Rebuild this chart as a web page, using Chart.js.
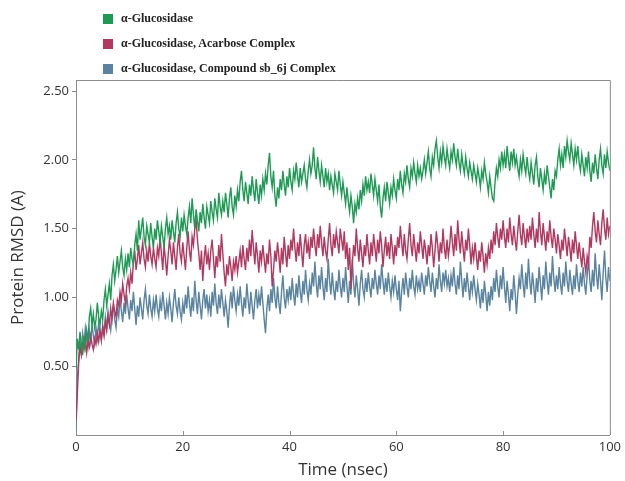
<!DOCTYPE html>
<html>
<head>
<meta charset="utf-8">
<script src="https://cdn.jsdelivr.net/npm/chart.js@4"></script>
<style>
  body { margin: 0; background: #fff; }
  #wrap { position: relative; width: 625px; height: 481px; }
  #legend { position: absolute; left: 103px; top: 6px; font: bold 12px "Liberation Serif", serif; color: #222; }
  .item { display: flex; align-items: center; height: 25px; }
  .box { width: 10px; height: 10px; margin-right: 8px; }
</style>
</head>
<body>
<div id="wrap">
  <canvas id="rmsdChart" width="625" height="481"></canvas>
  <div id="legend"></div>
</div>
<script>
// sampling step of the trajectory (nsec)
const step = 0.25;

const seriesNames = [
  "α-Glucosidase",
  "α-Glucosidase, Acarbose Complex",
  "α-Glucosidase, Compound sb_6j Complex",
];
const seriesColors = ["#1f9a55", "#b2385f", "#5a83a0"];

// α-Glucosidase, one row = 5 nsec
const apoRmsd = [
  0.48, 0.70, 0.62, 0.75, 0.66, 0.58, 0.72, 0.64, 0.76, 0.68, 0.86, 0.92, 0.80, 0.88, 0.78, 0.84, 0.96, 0.86, 0.80, 0.90,
  0.84, 0.98, 1.06, 0.94, 1.02, 1.10, 0.98, 1.16, 1.24, 1.12, 1.20, 1.30, 1.18, 1.26, 1.34, 1.22, 1.16, 1.28, 1.20, 1.32,
  1.22, 1.36, 1.28, 1.24, 1.38, 1.46, 1.34, 1.56, 1.42, 1.50, 1.58, 1.44, 1.38, 1.52, 1.46, 1.40, 1.54, 1.44, 1.36, 1.50,
  1.42, 1.56, 1.48, 1.40, 1.52, 1.44, 1.36, 1.50, 1.58, 1.46, 1.52, 1.42, 1.56, 1.48, 1.40, 1.54, 1.62, 1.50, 1.44, 1.58,
  1.48, 1.60, 1.52, 1.46, 1.58, 1.66, 1.54, 1.72, 1.60, 1.50, 1.64, 1.56, 1.48, 1.62, 1.54, 1.68, 1.58, 1.50, 1.66, 1.60,
  1.54, 1.70, 1.62, 1.56, 1.72, 1.64, 1.58, 1.76, 1.66, 1.60, 1.70, 1.62, 1.76, 1.68, 1.58, 1.72, 1.80, 1.66, 1.60, 1.74,
  1.66, 1.78, 1.70, 1.84, 1.92, 1.78, 1.70, 1.84, 1.76, 1.68, 1.82, 1.74, 1.88, 1.78, 1.70, 1.86, 1.76, 1.68, 1.82, 1.74,
  1.86, 1.78, 1.90, 1.82, 1.96, 2.05, 1.88, 1.80, 1.92, 1.74, 1.66, 1.80, 1.72, 1.86, 1.78, 1.92, 1.82, 1.74, 1.88, 1.80,
  1.94, 1.84, 1.78, 1.92, 1.86, 1.98, 1.88, 1.80, 1.94, 1.84, 1.90, 1.96, 1.86, 1.80, 1.92, 2.00, 1.90, 1.96, 2.09, 1.94,
  1.86, 2.02, 1.92, 1.84, 1.96, 1.88, 1.80, 1.94, 1.84, 1.90, 1.78, 1.88, 1.82, 1.76, 1.90, 1.84, 1.78, 1.92, 1.82, 1.74,
  1.84, 1.76, 1.68, 1.80, 1.70, 1.62, 1.74, 1.66, 1.54, 1.68, 1.62, 1.72, 1.64, 1.78, 1.70, 1.82, 1.74, 1.88, 1.78, 1.84,
  1.76, 1.90, 1.82, 1.74, 1.86, 1.78, 1.70, 1.82, 1.66, 1.58, 1.72, 1.80, 1.70, 1.84, 1.76, 1.68, 1.80, 1.74, 1.86, 1.78,
  1.72, 1.86, 1.78, 1.92, 1.82, 1.76, 1.90, 1.84, 1.96, 1.86, 1.80, 1.94, 1.88, 1.98, 1.90, 1.84, 1.96, 1.88, 1.94, 1.86,
  1.92, 2.00, 1.90, 1.98, 2.06, 1.94, 1.88, 2.02, 1.96, 2.08, 2.14, 2.02, 1.94, 2.06, 1.98, 2.10, 2.02, 1.96, 2.08, 2.00,
  1.94, 2.06, 2.00, 2.12, 2.02, 1.96, 2.08, 1.98, 1.92, 2.04, 1.96, 1.90, 2.02, 1.94, 1.88, 1.98, 1.92, 1.86, 1.96, 1.90,
  1.84, 1.94, 1.88, 1.80, 1.92, 1.86, 1.98, 1.90, 1.84, 1.76, 1.88, 1.80, 1.72, 1.70, 1.84, 1.94, 1.88, 2.00, 1.94, 2.06,
  1.96, 2.04, 1.94, 2.10, 2.00, 1.92, 2.06, 1.98, 2.08, 1.96, 2.02, 1.94, 1.88, 2.00, 1.92, 2.04, 1.96, 1.90, 2.02, 1.92,
  1.86, 1.98, 1.90, 1.82, 1.96, 2.02, 1.88, 1.80, 1.94, 1.86, 1.78, 1.90, 1.82, 1.96, 1.88, 1.80, 1.72, 1.86, 1.78, 1.92,
  1.88, 2.00, 2.08, 1.96, 2.04, 1.94, 2.10, 2.02, 2.14, 2.06, 2.00, 2.12, 2.04, 1.96, 2.08, 2.00, 2.10, 1.98, 1.92, 2.04,
  1.96, 1.88, 2.02, 1.94, 2.06, 1.92, 1.84, 1.98, 1.90, 2.04, 1.94, 1.86, 2.00, 2.08, 1.96, 1.90, 2.04, 1.94, 2.06, 1.98,
  1.92,
];

// α-Glucosidase, Acarbose Complex
const acarboseRmsd = [
  0.10, 0.30, 0.52, 0.64, 0.58, 0.66, 0.62, 0.70, 0.60, 0.68, 0.64, 0.72, 0.66, 0.62, 0.70, 0.66, 0.74, 0.68, 0.76, 0.70,
  0.78, 0.72, 0.82, 0.76, 0.86, 0.80, 0.92, 0.84, 0.96, 0.90, 0.86, 0.98, 0.94, 1.04, 0.98, 1.10, 1.02, 0.96, 1.08, 1.14,
  1.06, 1.18, 1.10, 1.26, 1.34, 1.20, 1.28, 1.38, 1.24, 1.32, 1.40, 1.28, 1.22, 1.34, 1.26, 1.40, 1.30, 1.24, 1.36, 1.28,
  1.22, 1.36, 1.30, 1.44, 1.32, 1.20, 1.38, 1.28, 1.16, 1.30, 1.42, 1.34, 1.24, 1.40, 1.30, 1.20, 1.36, 1.46, 1.32, 1.26,
  1.40, 1.30, 1.20, 1.36, 1.48, 1.34, 1.26, 1.44, 1.38, 1.50, 1.56, 1.42, 1.32, 1.20, 1.34, 1.12, 1.28, 1.38, 1.24, 1.32,
  1.20, 1.34, 1.42, 1.28, 1.14, 1.30, 1.22, 1.38, 1.26, 1.46, 1.32, 1.18, 1.08, 1.24, 1.16, 1.30, 1.22, 1.12, 1.26, 1.20,
  1.30, 1.18, 1.26, 1.34, 1.22, 1.38, 1.28, 1.20, 1.36, 1.26, 1.42, 1.30, 1.49, 1.36, 1.24, 1.40, 1.30, 1.18, 1.34, 1.26,
  1.38, 1.28, 1.18, 1.32, 1.24, 1.42, 1.30, 1.08, 1.20, 1.34, 1.26, 1.40, 1.30, 1.18, 1.36, 1.24, 1.44, 1.32, 1.22, 1.38,
  1.28, 1.42, 1.34, 1.50, 1.36, 1.26, 1.40, 1.30, 1.46, 1.34, 1.22, 1.38, 1.46, 1.32, 1.40, 1.28, 1.44, 1.36, 1.50, 1.38,
  1.30, 1.46, 1.36, 1.52, 1.40, 1.30, 1.44, 1.34, 1.28, 1.42, 1.54, 1.38, 1.30, 1.46, 1.36, 1.48, 1.40, 1.32, 1.50, 1.42,
  1.34, 1.48, 1.28, 1.40, 1.20, 1.36, 1.06, 1.24, 1.38, 1.30, 1.50, 1.36, 1.26, 1.42, 1.32, 1.22, 1.38, 1.30, 1.46, 1.34,
  1.24, 1.40, 1.30, 1.46, 1.36, 1.26, 1.42, 1.32, 1.48, 1.38, 1.22, 1.34, 1.44, 1.30, 1.40, 1.28, 1.46, 1.36, 1.24, 1.38,
  1.30, 1.44, 1.36, 1.52, 1.40, 1.30, 1.46, 1.34, 1.28, 1.42, 1.54, 1.38, 1.30, 1.46, 1.36, 1.26, 1.40, 1.32, 1.48, 1.38,
  1.28, 1.42, 1.34, 1.24, 1.38, 1.30, 1.46, 1.36, 1.22, 1.34, 1.48, 1.38, 1.26, 1.40, 1.32, 1.50, 1.36, 1.28, 1.42, 1.30,
  1.38, 1.52, 1.40, 1.30, 1.46, 1.34, 1.56, 1.42, 1.32, 1.48, 1.36, 1.26, 1.42, 1.34, 1.50, 1.38, 1.24, 1.36, 1.28, 1.40,
  1.30, 1.20, 1.34, 1.26, 1.40, 1.30, 1.18, 1.32, 1.24, 1.36, 1.28, 1.42, 1.32, 1.48, 1.38, 1.54, 1.44, 1.36, 1.50, 1.42,
  1.56, 1.44, 1.36, 1.50, 1.40, 1.58, 1.46, 1.38, 1.52, 1.42, 1.34, 1.48, 1.60, 1.46, 1.38, 1.54, 1.44, 1.36, 1.50, 1.40,
  1.52, 1.42, 1.58, 1.46, 1.36, 1.50, 1.40, 1.62, 1.48, 1.38, 1.54, 1.44, 1.34, 1.48, 1.40, 1.56, 1.44, 1.36, 1.50, 1.42,
  1.32, 1.46, 1.38, 1.28, 1.42, 1.34, 1.50, 1.40, 1.30, 1.44, 1.36, 1.26, 1.42, 1.32, 1.48, 1.38, 1.28, 1.40, 1.30, 1.22,
  1.36, 1.26, 1.18, 1.30, 1.24, 1.44, 1.36, 1.52, 1.62, 1.48, 1.40, 1.56, 1.46, 1.38, 1.54, 1.64, 1.50, 1.42, 1.58, 1.46,
  1.52,
];

// α-Glucosidase, Compound sb_6j Complex
const sb6jRmsd = [
  0.02, 0.40, 0.56, 0.68, 0.62, 0.74, 0.66, 0.78, 0.70, 0.64, 0.76, 0.68, 0.80, 0.72, 0.66, 0.78, 0.70, 0.82, 0.74, 0.68,
  0.80, 0.74, 0.86, 0.78, 0.90, 0.82, 0.76, 0.88, 0.94, 0.84, 0.78, 0.92, 0.86, 1.00, 0.90, 0.82, 0.96, 0.88, 1.02, 0.92,
  0.84, 0.98, 0.90, 1.04, 0.92, 0.80, 0.94, 0.86, 1.00, 0.92, 0.84, 0.98, 1.06, 0.94, 0.88, 1.02, 0.92, 0.86, 0.98, 0.90,
  1.02, 0.92, 0.86, 0.98, 0.90, 1.04, 0.94, 0.84, 0.96, 0.88, 1.00, 0.92, 0.82, 0.96, 1.06, 0.94, 0.88, 1.00, 0.90, 0.84,
  0.96, 0.88, 1.02, 0.92, 1.08, 0.96, 0.86, 1.00, 0.90, 1.12, 0.98, 0.88, 1.04, 0.94, 0.84, 0.98, 1.06, 0.92, 1.02, 0.90,
  0.98, 0.86, 1.04, 0.94, 1.10, 0.96, 0.88, 1.02, 0.92, 1.06, 0.96, 0.86, 0.98, 0.90, 0.78, 0.94, 1.04, 0.92, 1.08, 0.98,
  0.90, 1.02, 0.94, 1.08, 0.96, 0.86, 1.00, 0.92, 1.10, 0.98, 0.88, 1.04, 0.94, 0.84, 0.98, 1.06, 0.92, 1.02, 0.94, 1.08,
  0.96, 0.84, 0.74, 0.92, 1.02, 0.90, 1.06, 0.96, 1.14, 1.00, 0.92, 1.08, 0.96, 0.88, 1.04, 1.16, 1.00, 0.92, 1.06, 0.98,
  1.08, 0.98, 1.14, 1.02, 0.94, 1.10, 1.00, 1.16, 1.04, 0.96, 1.12, 1.02, 1.20, 1.06, 0.98, 1.10, 1.02, 1.18, 1.08, 1.26,
  1.10, 1.00, 1.16, 1.06, 1.22, 1.08, 0.98, 1.14, 1.04, 1.28, 1.12, 1.02, 1.18, 1.06, 0.98, 1.12, 1.04, 1.20, 1.08, 1.00,
  1.14, 1.04, 1.22, 1.08, 0.96, 1.12, 1.02, 1.28, 1.10, 1.00, 1.16, 1.06, 0.94, 1.10, 1.20, 1.06, 1.00, 1.14, 1.04, 1.18,
  1.08, 1.00, 1.14, 1.06, 1.20, 1.10, 1.02, 1.16, 1.06, 1.24, 1.12, 1.02, 1.14, 1.04, 1.18, 1.08, 1.00, 1.12, 1.04, 1.16,
  1.06, 0.98, 1.12, 0.90, 1.04, 1.14, 1.02, 1.18, 1.08, 1.00, 1.14, 1.06, 1.20, 1.08, 1.02, 1.16, 1.06, 1.12, 1.04, 1.18,
  1.10, 1.02, 1.16, 1.08, 1.22, 1.12, 1.04, 1.18, 1.08, 1.00, 1.14, 1.06, 1.24, 1.12, 1.04, 1.18, 1.10, 1.20, 1.08, 1.14,
  1.04, 1.16, 1.08, 1.22, 1.10, 1.02, 1.16, 1.06, 1.26, 1.12, 1.00, 1.14, 1.04, 1.18, 1.08, 0.98, 1.12, 1.04, 1.16, 1.06,
  0.98, 1.10, 1.02, 0.92, 1.06, 0.96, 1.12, 1.02, 0.90, 1.04, 0.94, 1.08, 0.98, 1.14, 1.04, 1.20, 1.08, 1.00, 1.16, 1.06,
  1.22, 1.08, 0.96, 1.12, 1.02, 0.90, 1.06, 0.98, 1.16, 1.04, 0.88, 1.02, 1.14, 1.06, 1.24, 1.10, 1.00, 1.18, 1.06, 1.28,
  1.12, 1.02, 1.18, 1.08, 0.96, 1.14, 1.04, 1.22, 1.10, 0.98, 1.16, 1.06, 1.26, 1.12, 1.02, 1.18, 1.08, 1.30, 1.14, 1.04,
  1.16, 1.06, 1.22, 1.10, 1.02, 1.18, 1.08, 1.26, 1.12, 1.04, 1.20, 1.10, 1.02, 1.16, 1.06, 1.24, 1.12, 1.04, 1.18, 1.08,
  1.22, 1.10, 1.02, 1.16, 1.28, 1.12, 1.04, 1.20, 1.08, 1.32, 1.16, 1.06, 1.24, 1.12, 0.98, 1.18, 1.34, 1.14, 1.04, 1.22,
  1.12,
];

const xTicks = [0, 20, 40, 60, 80, 100];
const yTicks = [0.5, 1.0, 1.5, 2.0, 2.5];

const allSeries = [apoRmsd, acarboseRmsd, sb6jRmsd];
const times = apoRmsd.map((_, i) => i * step);

// legend (html, stacked like the original)
const legendEl = document.getElementById("legend");
seriesNames.forEach((name, i) => {
  const row = document.createElement("div");
  row.className = "item";
  row.innerHTML = '<span class="box" style="background:' + seriesColors[i] + '"></span>' + name;
  legendEl.appendChild(row);
});

// box frame on top/right + small inward ticks on the time axis
const framePlugin = {
  id: "frame",
  afterDraw(chart) {
    const { ctx, chartArea: a, scales } = chart;
    ctx.save();
    ctx.strokeStyle = "#8c8c8c";
    ctx.lineWidth = 1;
    ctx.beginPath();
    ctx.moveTo(a.left, a.top + 0.5);
    ctx.lineTo(a.right + 0.5, a.top + 0.5);
    ctx.lineTo(a.right + 0.5, a.bottom);
    xTicks.forEach((t) => {
      const px = Math.round(scales.x.getPixelForValue(t)) + 0.5;
      ctx.moveTo(px, a.bottom);
      ctx.lineTo(px, a.bottom - 4);
    });
    ctx.stroke();
    ctx.restore();
  },
};

const ctx = document.getElementById("rmsdChart").getContext("2d");
new Chart(ctx, {
  type: "line",
  data: {
    datasets: allSeries.map((vals, i) => ({
      label: seriesNames[i],
      data: vals.map((v, j) => ({ x: times[j], y: v })),
      borderColor: seriesColors[i],
      borderWidth: 1.4,
      pointRadius: 0,
      tension: 0,
      fill: false,
    })),
  },
  options: {
    responsive: false,
    animation: false,
    layout: { padding: { top: 80, right: 13, left: 0, bottom: 0 } },
    plugins: {
      legend: { display: false },
      tooltip: { enabled: false },
    },
    scales: {
      x: {
        type: "linear",
        min: 0,
        max: 100,
        afterFit: (s) => { s.height = 46; },
        afterBuildTicks: (s) => { s.ticks = xTicks.map((v) => ({ value: v })); },
        grid: { display: false, drawTicks: false },
        border: { display: true, color: "#8c8c8c", width: 1 },
        ticks: {
          padding: 4,
          color: "#333",
          font: { family: "Open Sans", size: 13 },
          maxRotation: 0,
        },
        title: {
          display: true,
          text: "Time (nsec)",
          color: "#333",
          font: { family: "Open Sans", size: 17 },
          padding: { top: 0, bottom: 1 },
        },
      },
      y: {
        min: 0,
        max: 2.58,
        afterFit: (s) => { s.width = 76; },
        afterBuildTicks: (s) => { s.ticks = yTicks.map((v) => ({ value: v })); },
        grid: { drawOnChartArea: false, drawTicks: true, tickLength: 4, color: "#8c8c8c" },
        border: { display: true, color: "#8c8c8c", width: 1 },
        ticks: {
          padding: 3,
          color: "#333",
          font: { family: "Open Sans", size: 13 },
          callback: (v) => Number(v).toFixed(2),
        },
        title: {
          display: true,
          text: "Protein RMSD (A)",
          color: "#333",
          font: { family: "Open Sans", size: 17 },
          padding: { top: 8, bottom: 0 },
        },
      },
    },
  },
  plugins: [framePlugin],
});
</script>
</body>
</html>
